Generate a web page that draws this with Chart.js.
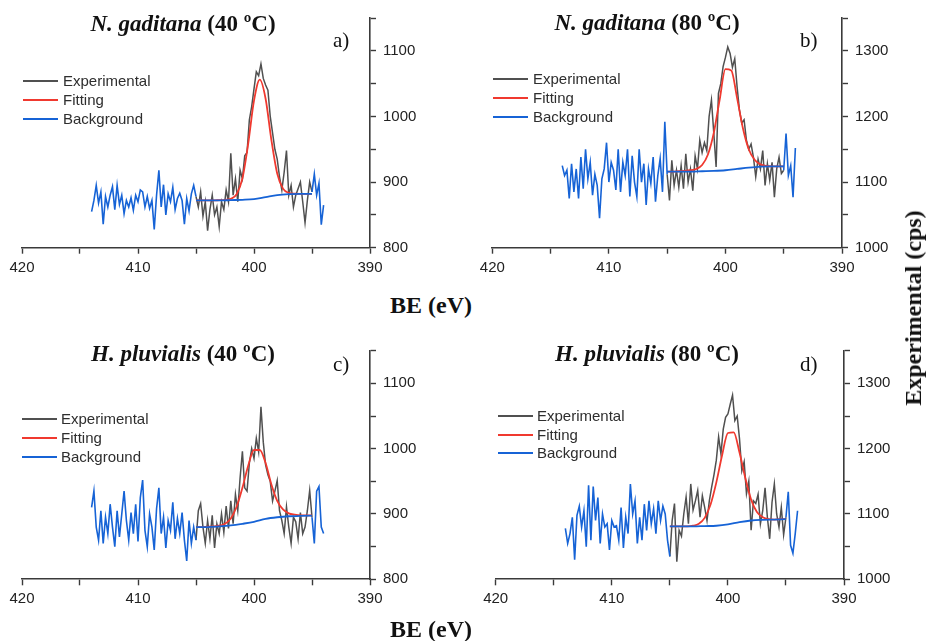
<!DOCTYPE html>
<html>
<head>
<meta charset="utf-8">
<script src="https://cdn.jsdelivr.net/npm/chart.js@4.4.0/dist/chart.umd.min.js"></script>
<style>
  html, body { margin: 0; padding: 0; background: #fff; }
  #fig { position: relative; width: 926px; height: 641px; overflow: hidden; font-family: "Liberation Sans", Arial, sans-serif; }
  canvas { position: absolute; }
  .title { position: absolute; width: 300px; text-align: center; font: bold 23px "Liberation Serif", "Times New Roman", serif; line-height: 23px; color: #111; white-space: nowrap; }
  .tag { position: absolute; font: 21px "Liberation Serif", "Times New Roman", serif; line-height: 21px; color: #111; }
  .axis-title { position: absolute; font: bold 24px "Liberation Serif", "Times New Roman", serif; line-height: 24px; color: #111; white-space: nowrap; }
  .leg-line { position: absolute; width: 35px; height: 0; border-top: 2px solid; }
  .leg-text { position: absolute; font-size: 15px; line-height: 18px; color: #2e2e2e; white-space: nowrap; }
</style>
</head>
<body>
<div id="fig">
  <canvas id="cA" width="460" height="290" style="left:0;top:0"></canvas>
  <canvas id="cB" width="466" height="290" style="left:460px;top:0"></canvas>
  <canvas id="cC" width="460" height="290" style="left:0;top:330px"></canvas>
  <canvas id="cD" width="466" height="290" style="left:460px;top:330px"></canvas>

  <div class="title" style="left:33px;top:12px"><i>N. gaditana</i> (40 ºC)</div>
  <div class="title" style="left:497px;top:11px"><i>N. gaditana</i> (80 ºC)</div>
  <div class="title" style="left:33px;top:342px"><i>H. pluvialis</i> (40 ºC)</div>
  <div class="title" style="left:497px;top:342px"><i>H. pluvialis</i> (80 ºC)</div>

  <div class="tag" style="left:333px;top:30px">a)</div>
  <div class="tag" style="left:800px;top:30px">b)</div>
  <div class="tag" style="left:333px;top:354px">c)</div>
  <div class="tag" style="left:800px;top:354px">d)</div>

  <div class="axis-title" style="left:390px;top:293px">BE (eV)</div>
  <div class="axis-title" style="left:390px;top:617px">BE (eV)</div>
  <div class="axis-title" style="left:913px;top:308px;transform:translate(-50%,-50%) rotate(-90deg)">Experimental (cps)</div>
</div>

<script>
// Energía de enlace (eV) de los espectros medidos, paso 0.2
const beRaw = [
  414.0, 413.8, 413.6, 413.4, 413.2, 413.0, 412.8, 412.6, 412.4, 412.2,
  412.0, 411.8, 411.6, 411.4, 411.2, 411.0, 410.8, 410.6, 410.4, 410.2,
  410.0, 409.8, 409.6, 409.4, 409.2, 409.0, 408.8, 408.6, 408.4, 408.2,
  408.0, 407.8, 407.6, 407.4, 407.2, 407.0, 406.8, 406.6, 406.4, 406.2,
  406.0, 405.8, 405.6, 405.4, 405.2,
  405.0, 404.8, 404.6, 404.4, 404.2, 404.0, 403.8, 403.6, 403.4, 403.2,
  403.0, 402.8, 402.6, 402.4, 402.2, 402.0, 401.8, 401.6, 401.4, 401.2,
  401.0, 400.8, 400.6, 400.4, 400.2, 400.0, 399.8, 399.6, 399.4, 399.2,
  399.0, 398.8, 398.6, 398.4, 398.2, 398.0, 397.8, 397.6, 397.4, 397.2,
  397.0, 396.8, 396.6, 396.4, 396.2, 396.0, 395.8, 395.6, 395.4, 395.2, 395.0,
  394.8, 394.6, 394.4, 394.2, 394.0
];
// Ajuste (paso 0.5) y fondo (paso 1)
const beFit = [405, 404.5, 404, 403.5, 403, 402.5, 402, 401.5, 401, 400.5, 400,
               399.5, 399, 398.5, 398, 397.5, 397, 396.5, 396, 395.5, 395];
const beBg = [405, 404, 403, 402, 401, 400, 399, 398, 397, 396, 395];

// a) N. gaditana 40 ºC
const countsA = [
  855, 872, 895, 868, 885, 836, 878, 862, 880, 893,
  858, 895, 866, 880, 852, 872, 862, 876, 857, 880,
  870, 888, 885, 862, 878, 860, 872, 828, 880, 918,
  862, 896, 850, 882, 870, 892, 858, 875, 883, 872,
  836, 875, 856, 882, 895,
  878, 862, 885, 848, 870, 826, 858, 880, 850, 862,
  832, 870, 858, 888, 870, 944, 880, 905, 870, 918,
  905, 940, 945, 995, 1015, 1042, 1068, 1062, 1080, 1058,
  1048, 1040, 1000, 975, 950, 935, 908, 888, 915, 948,
  880, 895, 862, 880, 890, 900, 870, 838, 872, 900, 885,
  912, 880, 898, 835, 865
];
const fitA = [872, 872, 872, 872, 872.5, 873, 874.5, 881.5, 905.5, 958.5, 1024,
              1056, 1027, 964, 913, 890, 883.5, 882.2, 882, 882, 882];
const bgA = [872, 872, 872, 872.5, 873, 874, 877, 880, 881.5, 882, 882];

// b) N. gaditana 80 ºC
const countsB = [
  1125, 1110, 1118, 1075, 1128, 1085, 1120, 1075, 1138, 1090,
  1150, 1105, 1130, 1080, 1112, 1095, 1045, 1105, 1120, 1160,
  1100, 1130, 1118, 1088, 1150, 1085, 1130, 1110, 1150, 1078,
  1140, 1100, 1078, 1150, 1100, 1128, 1065, 1120, 1098, 1138,
  1070, 1110, 1136, 1085, 1192,
  1112, 1072, 1133, 1095, 1118, 1092, 1125, 1090, 1143, 1100,
  1120, 1087, 1140, 1120, 1164, 1145, 1160, 1148, 1200, 1225,
  1175, 1123, 1235, 1250, 1276, 1290, 1306, 1296, 1275, 1288,
  1245, 1210, 1190, 1195, 1164, 1150, 1158, 1138, 1108, 1135,
  1120, 1148, 1095, 1128, 1103, 1130, 1077, 1120, 1138, 1113, 1118,
  1174, 1110, 1125, 1077, 1152
];
const fitB = [1116, 1116, 1116.5, 1117, 1118, 1120, 1126, 1142, 1175, 1225, 1272,
              1270, 1228, 1182, 1150, 1134, 1127, 1124.5, 1124, 1124, 1124];
const bgB = [1116, 1116, 1116, 1116.5, 1117, 1118, 1120, 1122, 1123.5, 1124, 1124];

// c) H. pluvialis 40 ºC
const countsC = [
  910, 935, 880, 860, 905, 855, 895, 870, 915, 880,
  850, 905, 865, 900, 935, 890, 860, 902, 870, 915,
  858, 925, 952, 875, 850, 900, 880, 845, 908, 940,
  870, 895, 848, 890, 875, 918, 862, 893, 870, 902,
  860, 828, 890, 855, 880,
  860, 905, 916, 880, 855, 890, 862, 898, 848, 885,
  870, 900, 872, 912, 878, 920, 885, 930, 905, 955,
  996, 940, 935, 978, 1000, 985, 1016, 995, 1064, 1010,
  975, 960, 950, 920, 935, 951, 905, 890, 870, 911,
  880, 855, 895, 888, 862, 902, 870, 880, 905, 936, 895,
  855, 935, 942, 880, 870
];
const fitC = [880, 880, 880.5, 881, 882, 885, 893, 911, 940, 974, 998,
              998, 978, 945, 920, 907, 901, 899, 898, 898, 898];
const bgC = [880, 880, 881, 882.5, 885, 888, 892.5, 895, 896.5, 897, 897.5];

// d) H. pluvialis 80 ºC
const countsD = [
  1078, 1055, 1070, 1095, 1030, 1098, 1112, 1080, 1105, 1050,
  1144, 1060, 1142, 1090, 1125, 1055, 1100, 1080, 1085, 1045,
  1090, 1080, 1082, 1060, 1110, 1048, 1095, 1070, 1146, 1100,
  1120, 1055, 1095, 1060, 1115, 1075, 1120, 1085, 1108, 1070,
  1120, 1090, 1112, 1100, 1060,
  1035, 1090, 1116, 1027, 1075, 1066, 1100, 1126, 1085, 1146,
  1106, 1120, 1136, 1095, 1128, 1110, 1090, 1120, 1141, 1160,
  1182, 1218, 1192, 1230, 1248, 1253, 1268, 1282, 1243, 1250,
  1215, 1166, 1180, 1131, 1150, 1075, 1120, 1116, 1130, 1085,
  1105, 1140, 1095, 1062, 1118, 1146, 1100, 1080, 1110, 1068, 1095,
  1134, 1052, 1040, 1070, 1105
];
const fitD = [1081, 1081, 1081, 1081, 1082, 1085, 1094, 1114, 1148, 1190, 1224,
              1225, 1194, 1155, 1122, 1103, 1095, 1092, 1091.5, 1092, 1092];
const bgD = [1081, 1081, 1081, 1081.5, 1082, 1084, 1087.5, 1090, 1091, 1091.5, 1092];

const seriesNames = ['Experimental', 'Fitting', 'Background'];
const xTickLabels = [420, 410, 400, 390];
const yTicksLow = [800, 900, 1000, 1100];
const yTicksHigh = [1000, 1100, 1200, 1300];

const colGris = '#505050';
const colRojo = '#f0392f';
const colAzul = '#1663d6';
const colEje = '#3a3a3a';
const fuente = '"Liberation Sans", Arial, sans-serif';

Chart.defaults.font.family = fuente;

// Región del ajuste: entre 405 y 395 eV el espectro se pinta en gris
const enAjuste = e => e <= 405 && e >= 395;

const anchoEjeY = 62;

const paneles = [
  { id: 'cA', raw: countsA, fit: fitA, bg: bgA, yMin: 800, yTicks: yTicksLow,
    pad: { left: 22, right: 460 - 370 - anchoEjeY, top: 18, bottom: 12.3 },
    leg: { line: 23, text: 63, rows: [81, 100, 119] } },
  { id: 'cB', raw: countsB, fit: fitB, bg: bgB, yMin: 1000, yTicks: yTicksHigh,
    pad: { left: 32.3, right: 466 - 382 - anchoEjeY, top: 18, bottom: 12.3 },
    leg: { line: 493, text: 533, rows: [79, 98, 117] } },
  { id: 'cC', raw: countsC, fit: fitC, bg: bgC, yMin: 800, yTicks: yTicksLow,
    pad: { left: 22, right: 460 - 370 - anchoEjeY, top: 20.7, bottom: 10.7 },
    leg: { line: 22, text: 61, rows: [419, 438, 457] } },
  { id: 'cD', raw: countsD, fit: fitD, bg: bgD, yMin: 1000, yTicks: yTicksHigh,
    pad: { left: 35.7, right: 466 - 384 - anchoEjeY, top: 20.7, bottom: 10.7 },
    leg: { line: 498, text: 537, rows: [416, 435, 453] } }
];

function crearLeyenda(p) {
    const fig = document.getElementById('fig');
    const colores = [colGris, colRojo, colAzul];
    seriesNames.forEach((nombre, i) => {
        const y = p.leg.rows[i];
        const linea = document.createElement('div');
        linea.className = 'leg-line';
        linea.style.left = p.leg.line + 'px';
        linea.style.top = (y - 1) + 'px';
        linea.style.borderTopColor = colores[i];
        fig.appendChild(linea);

        const texto = document.createElement('div');
        texto.className = 'leg-text';
        texto.style.left = p.leg.text + 'px';
        texto.style.top = (y - 9) + 'px';
        texto.textContent = nombre;
        fig.appendChild(texto);
    });
}

function crearGrafico(p) {
    // Puntos fuera del ajuste en azul (con hueco en el medio), dentro en gris
    const azul = beRaw.map((e, i) => ({ x: e, y: enAjuste(e) && e !== 405 && e !== 395 ? null : p.raw[i] }));
    const gris = beRaw.map((e, i) => ({ x: e, y: p.raw[i] })).filter(pt => enAjuste(pt.x));
    const ajuste = beFit.map((e, i) => ({ x: e, y: p.fit[i] }));
    const fondo = beBg.map((e, i) => ({ x: e, y: p.bg[i] }));

    const ctx = document.getElementById(p.id).getContext('2d');
    new Chart(ctx, {
        type: 'line',
        data: {
            datasets: [
                { label: 'Background', data: azul, borderColor: colAzul, borderWidth: 1.6,
                  pointRadius: 0, spanGaps: false, order: 0 },
                { label: 'Background', data: fondo, borderColor: colAzul, borderWidth: 1.8,
                  pointRadius: 0, cubicInterpolationMode: 'monotone', order: 1 },
                { label: 'Fitting', data: ajuste, borderColor: colRojo, borderWidth: 1.8,
                  pointRadius: 0, cubicInterpolationMode: 'monotone', order: 2 },
                { label: 'Experimental', data: gris, borderColor: colGris, borderWidth: 1.5,
                  pointRadius: 0, order: 3 }
            ]
        },
        options: {
            responsive: false,
            animation: false,
            events: [],
            layout: { padding: p.pad },
            plugins: { legend: { display: false }, tooltip: { enabled: false } },
            scales: {
                x: {
                    type: 'linear', position: 'bottom', reverse: true, min: 390, max: 420,
                    afterFit: s => { s.height = 30; },
                    border: { display: true, color: colEje, width: 1.6 },
                    grid: { drawOnChartArea: false, drawTicks: true, tickLength: 6, tickColor: colEje, tickWidth: 1.4 },
                    ticks: {
                        stepSize: 5, autoSkip: false, maxRotation: 0, padding: 5,
                        color: '#222', font: { size: 15 },
                        callback: v => xTickLabels.includes(v) ? String(v) : ''
                    }
                },
                y: {
                    type: 'linear', position: 'right', min: p.yMin, max: p.yMin + 350,
                    afterFit: s => { s.width = anchoEjeY; },
                    border: { display: true, color: colEje, width: 1.6 },
                    grid: { drawOnChartArea: false, drawTicks: true, tickLength: 6, tickColor: colEje, tickWidth: 1.4 },
                    ticks: {
                        stepSize: 50, autoSkip: false, padding: 7,
                        color: '#222', font: { size: 15 },
                        callback: v => p.yTicks.includes(v) ? String(v) : ''
                    }
                }
            }
        }
    });
}

paneles.forEach(p => {
    crearGrafico(p);
    crearLeyenda(p);
});
</script>
</body>
</html>
